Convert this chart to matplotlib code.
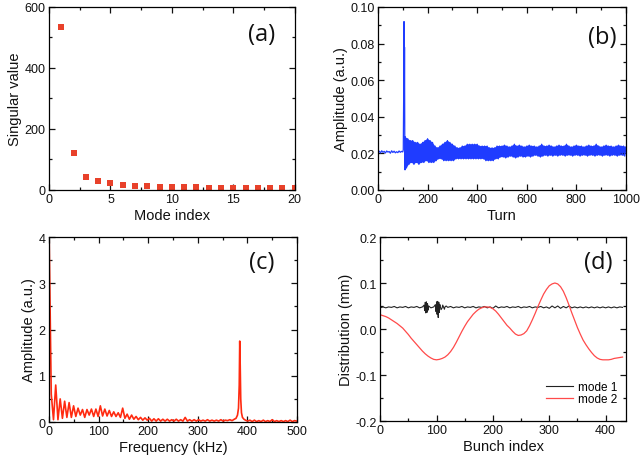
import numpy as np
import matplotlib
matplotlib.use("Agg")
import matplotlib.pyplot as plt
from matplotlib.ticker import MultipleLocator, FormatStrFormatter

plt.rcParams['font.family'] = ['Liberation Sans', 'DejaVu Sans']
plt.rcParams['axes.unicode_minus'] = False

# ---------------- (a) singular values ----------------
mode_index = list(range(1, 21))
singular_values = [535, 122, 43, 30, 24, 15, 14, 13, 11, 9, 9, 9, 8, 8, 8, 8, 8, 8, 7, 7]

# ---------------- (b) amplitude vs turn ----------------
pre_turns = list(range(0, 101, 5))
pre_amp = [0.0205, 0.0212, 0.0203, 0.0214, 0.0206, 0.0211, 0.0202, 0.0213, 0.0207,
           0.0210, 0.0201, 0.0214, 0.0205, 0.0212, 0.0203, 0.0209, 0.0204, 0.0213,
           0.0206, 0.0211, 0.0208]
kick_turns = [102, 104, 105, 106, 107, 108, 109]
kick_amp = [0.022, 0.060, 0.092, 0.040, 0.078, 0.030, 0.011]
upper_turns = list(range(110, 1001, 10))
upper_amp = [0.029, 0.028, 0.027, 0.027, 0.026, 0.026, 0.025, 0.026, 0.027, 0.028,
             0.027, 0.026, 0.024, 0.023, 0.024, 0.025, 0.026, 0.027, 0.026, 0.025,
             0.024, 0.023, 0.023, 0.024, 0.024, 0.025, 0.025, 0.025, 0.025, 0.025,
             0.024, 0.024, 0.024, 0.024, 0.023, 0.023, 0.023, 0.024, 0.024, 0.024,
             0.0245, 0.024, 0.0235, 0.024, 0.025, 0.024, 0.0245, 0.024, 0.0235, 0.024,
             0.0245, 0.024, 0.024, 0.0235, 0.024, 0.025, 0.024, 0.024, 0.0245, 0.024,
             0.0235, 0.024, 0.0245, 0.024, 0.024, 0.025, 0.024, 0.0235, 0.024, 0.0245,
             0.024, 0.024, 0.0235, 0.024, 0.0245, 0.024, 0.024, 0.025, 0.024, 0.0235,
             0.024, 0.0245, 0.024, 0.024, 0.0235, 0.024, 0.0245, 0.024, 0.024, 0.0235]
lower_turns = list(range(115, 1000, 10))
lower_amp = [0.012, 0.014, 0.015, 0.014, 0.015, 0.014, 0.015, 0.015, 0.016, 0.015,
             0.015, 0.015, 0.016, 0.017, 0.017, 0.016, 0.016, 0.016, 0.016, 0.016,
             0.017, 0.017, 0.017, 0.017, 0.017, 0.017, 0.017, 0.017, 0.017, 0.017,
             0.017, 0.017, 0.016, 0.016, 0.016, 0.016, 0.017, 0.017, 0.018, 0.018,
             0.0175, 0.018, 0.0185, 0.018, 0.0175, 0.018, 0.0185, 0.018, 0.018, 0.0185,
             0.018, 0.0185, 0.019, 0.0185, 0.018, 0.0185, 0.019, 0.0185, 0.019, 0.0185,
             0.019, 0.0185, 0.019, 0.019, 0.0185, 0.019, 0.019, 0.0185, 0.019, 0.019,
             0.0185, 0.019, 0.019, 0.0185, 0.019, 0.019, 0.0185, 0.019, 0.019, 0.0185,
             0.019, 0.019, 0.0185, 0.019, 0.019, 0.0185, 0.019, 0.019, 0.0185]

# ---------------- (c) spectrum ----------------
freq_low = np.arange(0, 200, 4.5)
amp_low = [4.2, 0.6, 0.05, 0.8, 0.05, 0.5, 0.08, 0.45, 0.10, 0.42, 0.10, 0.35, 0.12,
           0.30, 0.15, 0.27, 0.10, 0.27, 0.15, 0.28, 0.12, 0.28, 0.12, 0.35, 0.13,
           0.28, 0.13, 0.25, 0.12, 0.22, 0.12, 0.20, 0.10, 0.30, 0.08, 0.17, 0.06,
           0.15, 0.06, 0.12, 0.05, 0.10, 0.04, 0.09, 0.04]
freq_mid = np.arange(202.5, 376, 4.5)
amp_mid = [0.08, 0.02, 0.07, 0.02, 0.07, 0.02, 0.06, 0.02, 0.06, 0.02, 0.05, 0.02,
           0.06, 0.02, 0.05, 0.02, 0.10, 0.02, 0.05, 0.02, 0.05, 0.02, 0.05, 0.02,
           0.04, 0.02, 0.05, 0.02, 0.04, 0.02, 0.04, 0.02, 0.05, 0.02, 0.04, 0.03,
           0.05, 0.03, 0.06]
freq_peak = [377, 380, 382, 383.5, 384.5, 385.5, 386.5, 388, 390, 393]
amp_peak = [0.08, 0.15, 0.30, 0.80, 1.75, 1.20, 0.50, 0.20, 0.10, 0.06]
freq_high = np.arange(396, 501, 4.5)
amp_high = [0.04, 0.02, 0.04, 0.01, 0.04, 0.01, 0.03, 0.01, 0.04, 0.01, 0.03, 0.01,
            0.05, 0.01, 0.03, 0.01, 0.03, 0.01, 0.03, 0.01, 0.04, 0.01, 0.03, 0.02]

# ---------------- (d) mode distributions ----------------
bunch_mode2 = list(range(0, 431, 5))
dist_mode2 = [0.031, 0.029, 0.027, 0.024, 0.020, 0.016, 0.012, 0.007, 0.002, -0.005,
              -0.012, -0.020, -0.027, -0.034, -0.041, -0.048, -0.054, -0.059, -0.063, -0.066,
              -0.067, -0.066, -0.064, -0.061, -0.056, -0.049, -0.040, -0.029, -0.017, -0.005,
              0.006, 0.016, 0.024, 0.032, 0.038, 0.043, 0.046, 0.048, 0.048, 0.047,
              0.044, 0.039, 0.032, 0.024, 0.016, 0.008, 0.002, -0.005, -0.011, -0.014,
              -0.013, -0.010, -0.004, 0.007, 0.020, 0.034, 0.049, 0.063, 0.076, 0.086,
              0.094, 0.098, 0.100, 0.098, 0.092, 0.082, 0.068, 0.052, 0.035, 0.019,
              0.003, -0.011, -0.024, -0.034, -0.043, -0.051, -0.058, -0.063, -0.066, -0.067,
              -0.067, -0.067, -0.066, -0.064, -0.063, -0.062, -0.061]
bunch_mode1 = list(range(0, 431, 5))
dist_mode1 = [0.046, 0.048, 0.046, 0.048, 0.047, 0.049, 0.046, 0.048, 0.047, 0.049,
              0.046, 0.048, 0.047, 0.049, 0.046, 0.048, 0.047, 0.049, 0.046, 0.048,
              0.047, 0.049, 0.046, 0.048, 0.047, 0.049, 0.046, 0.048, 0.047, 0.049,
              0.046, 0.048, 0.047, 0.049, 0.046, 0.048, 0.047, 0.049, 0.046, 0.048,
              0.045, 0.050, 0.046, 0.048, 0.047, 0.049, 0.046, 0.048, 0.047, 0.049,
              0.046, 0.048, 0.047, 0.049, 0.046, 0.048, 0.047, 0.049, 0.046, 0.048,
              0.045, 0.050, 0.046, 0.050, 0.045, 0.049, 0.046, 0.050, 0.046, 0.048,
              0.046, 0.048, 0.046, 0.048, 0.046, 0.048, 0.046, 0.048, 0.046, 0.048,
              0.046, 0.048, 0.046, 0.048, 0.046, 0.048, 0.047]
burst_bunch = [78, 79, 80, 81, 82, 83, 84, 85, 86,
               98, 99, 100, 101, 102, 103, 104, 105, 106, 108, 111, 114, 117]
burst_dist = [0.052, 0.040, 0.058, 0.035, 0.059, 0.036, 0.055, 0.041, 0.050,
              0.053, 0.038, 0.059, 0.032, 0.060, 0.025, 0.058, 0.036, 0.053, 0.042,
              0.052, 0.043, 0.050]

# ---------------- figure ----------------
fig = plt.figure(figsize=(6.4, 4.6), dpi=100)

def style(ax, xmaj, xmin, ymaj, ymin):
    ax.xaxis.set_major_locator(MultipleLocator(xmaj))
    ax.xaxis.set_minor_locator(MultipleLocator(xmin))
    ax.yaxis.set_major_locator(MultipleLocator(ymaj))
    ax.yaxis.set_minor_locator(MultipleLocator(ymin))
    ax.tick_params(which='both', direction='in', top=True, right=True, labelsize=9,
                   width=0.9, pad=2.5, colors='#111111')
    ax.tick_params(which='major', length=4)
    ax.tick_params(which='minor', length=2.3)
    for s in ax.spines.values():
        s.set_linewidth(0.9)

def tag(ax, text, x, y):
    ax.text(x, y, text, transform=ax.transAxes, ha='center', va='center',
            fontsize=17, family=['Open Sans', 'DejaVu Sans'], color='#111111')

lab = dict(fontsize=10.5, color='#111111', labelpad=1.5)

# (a)
axa = fig.add_axes([0.0766, 0.5848, 0.384, 0.398])
axa.plot(mode_index, singular_values, 's', color='#e8412a', markersize=4.2,
         markeredgewidth=0, clip_on=True)
axa.set_xlim(0, 20)
axa.set_ylim(0, 600)
style(axa, 5, 2.5, 200, 100)
axa.set_xlabel('Mode index', **lab)
axa.set_ylabel('Singular value', **lab)
tag(axa, '(a)', 0.866, 0.852)

# (b)
axb = fig.add_axes([0.5906, 0.5848, 0.3875, 0.398])
blue = '#1f3cff'
osc_t = []
osc_a = []
for i in range(len(upper_turns)):
    osc_t.append(upper_turns[i]); osc_a.append(upper_amp[i])
    if i < len(lower_turns):
        osc_t.append(lower_turns[i]); osc_a.append(lower_amp[i])
band_t = upper_turns + lower_turns[::-1]
band_a = upper_amp + lower_amp[::-1]
axb.fill(band_t, band_a, color=blue, linewidth=0)
turn_all = pre_turns + kick_turns + osc_t
amp_all = pre_amp + kick_amp + osc_a
axb.plot(turn_all, amp_all, color=blue, linewidth=0.9)
axb.set_xlim(0, 1000)
axb.set_ylim(0, 0.10)
style(axb, 200, 100, 0.02, 0.01)
axb.yaxis.set_major_formatter(FormatStrFormatter('%.2f'))
axb.set_xlabel('Turn', **lab)
axb.set_ylabel('Amplitude (a.u.)', **lab)
tag(axb, '(b)', 0.906, 0.836)

# (c)
axc = fig.add_axes([0.0766, 0.0804, 0.3875, 0.402])
f_all = list(freq_low) + list(freq_mid) + freq_peak + list(freq_high)
a_all = amp_low + amp_mid + amp_peak + amp_high
axc.plot(f_all, a_all, color='#ff2a10', linewidth=1.2)
axc.set_xlim(0, 500)
axc.set_ylim(0, 4)
style(axc, 100, 50, 1, 0.5)
axc.set_xlabel('Frequency (kHz)', **lab)
axc.set_ylabel('Amplitude (a.u.)', **lab)
tag(axc, '(c)', 0.858, 0.863)

# (d)
axd = fig.add_axes([0.594, 0.0826, 0.384, 0.40])
m1 = sorted(zip(bunch_mode1 + burst_bunch, dist_mode1 + burst_dist))
axd.plot([p[0] for p in m1], [p[1] for p in m1], color='#222222', linewidth=0.8, label='mode 1')
axd.plot(bunch_mode2, dist_mode2, color='#ff4a4a', linewidth=0.9, label='mode 2')
axd.set_xlim(0, 436)
axd.set_ylim(-0.2, 0.2)
style(axd, 100, 50, 0.1, 0.05)
axd.yaxis.set_major_formatter(FormatStrFormatter('%.1f'))
axd.set_xlabel('Bunch index', **lab)
axd.set_ylabel('Distribution (mm)', **lab)
tag(axd, '(d)', 0.887, 0.862)
leg = axd.legend(loc='lower right', frameon=False, fontsize=8.5, handlelength=2.3,
                 handletextpad=0.4, labelspacing=0.05, borderaxespad=0.0,
                 bbox_to_anchor=(0.985, 0.06))

fig.savefig('out.png', dpi=100)
